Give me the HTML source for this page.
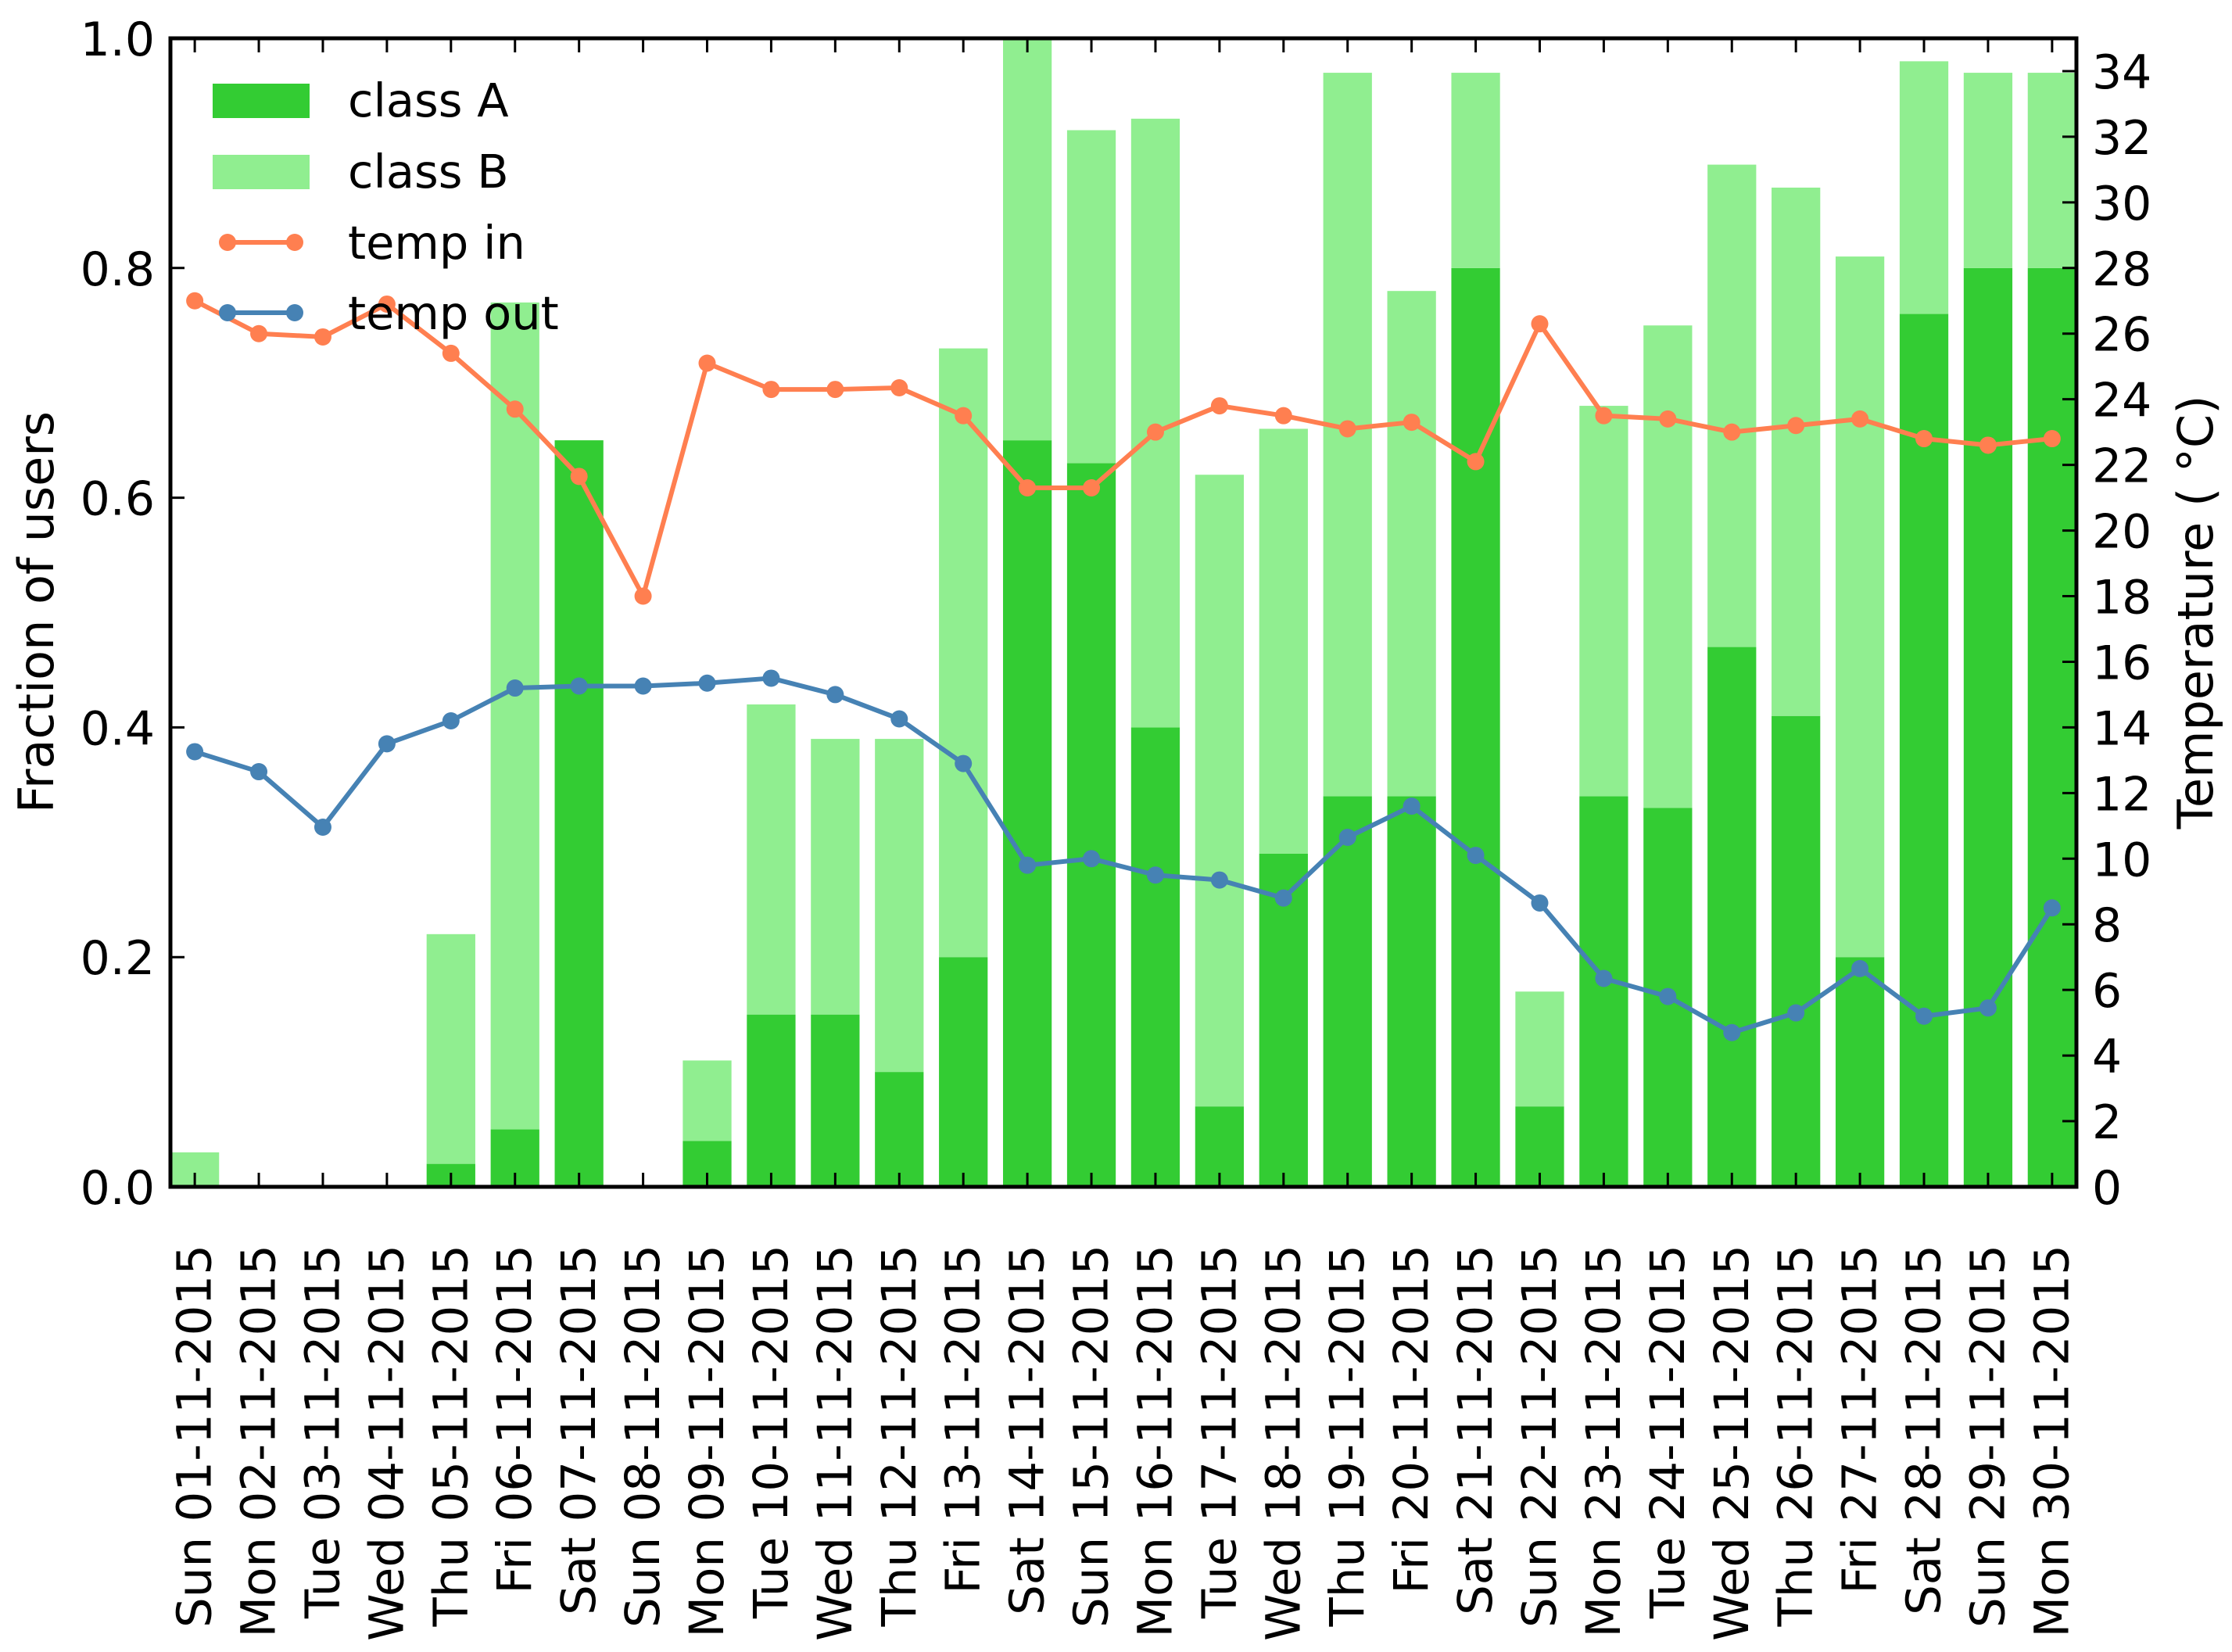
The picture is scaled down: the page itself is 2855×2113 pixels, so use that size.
<!DOCTYPE html>
<html><head><meta charset="utf-8"><style>
html,body{margin:0;padding:0;background:#fff;}
svg{display:block;font-family:"DejaVu Sans","Liberation Sans",sans-serif;}
</style></head><body>
<svg id="chart" width="2855" height="2113" viewBox="0 0 2855 2113" xmlns="http://www.w3.org/2000/svg">
<g id="bars"></g>
<g id="lines"></g>
<g id="axes"></g>
<g id="legend">
  <rect x="272" y="107" width="124" height="44" fill="#33cc33"/>
  <text x="445" y="149" font-size="59">class A</text>
  <rect x="272" y="198" width="124" height="44" fill="#90ee90"/>
  <text x="445" y="240" font-size="59">class B</text>
  <line x1="291" y1="310" x2="377" y2="310" stroke="#ff7f50" stroke-width="6"/>
  <circle cx="291" cy="310" r="11" fill="#ff7f50"/>
  <circle cx="377" cy="310" r="11" fill="#ff7f50"/>
  <text x="445" y="331" font-size="59">temp in</text>
  <line x1="291" y1="400" x2="377" y2="400" stroke="#4682b4" stroke-width="6"/>
  <circle cx="291" cy="400" r="11" fill="#4682b4"/>
  <circle cx="377" cy="400" r="11" fill="#4682b4"/>
  <text x="445" y="421" font-size="59">temp out</text>
</g>
<text font-size="62" text-anchor="middle" transform="translate(68,783) rotate(-90)">Fraction of users</text>
<text font-size="62" text-anchor="middle" transform="translate(2830,783) rotate(-90)">Temperature ( °C)</text>
</svg>
<script>
const categories = ["Sun 01-11-2015","Mon 02-11-2015","Tue 03-11-2015","Wed 04-11-2015","Thu 05-11-2015","Fri 06-11-2015","Sat 07-11-2015","Sun 08-11-2015","Mon 09-11-2015","Tue 10-11-2015","Wed 11-11-2015","Thu 12-11-2015","Fri 13-11-2015","Sat 14-11-2015","Sun 15-11-2015","Mon 16-11-2015","Tue 17-11-2015","Wed 18-11-2015","Thu 19-11-2015","Fri 20-11-2015","Sat 21-11-2015","Sun 22-11-2015","Mon 23-11-2015","Tue 24-11-2015","Wed 25-11-2015","Thu 26-11-2015","Fri 27-11-2015","Sat 28-11-2015","Sun 29-11-2015","Mon 30-11-2015"];
const classA = [0,0,0,0,0.02,0.05,0.65,0,0.04,0.15,0.15,0.10,0.20,0.65,0.63,0.40,0.07,0.29,0.34,0.34,0.80,0.07,0.34,0.33,0.47,0.41,0.20,0.76,0.80,0.80];
const classB = [0.03,0,0,0,0.20,0.72,0,0,0.07,0.27,0.24,0.29,0.53,0.35,0.29,0.53,0.55,0.37,0.63,0.44,0.17,0.10,0.34,0.42,0.42,0.46,0.61,0.22,0.17,0.17];
const tempIn = [27.0,26.0,25.9,26.9,25.4,23.7,21.65,18.0,25.1,24.3,24.3,24.35,23.5,21.3,21.3,23.0,23.8,23.5,23.1,23.3,22.1,26.3,23.5,23.4,23.0,23.2,23.4,22.8,22.6,22.8];
const tempOut = [13.26,12.65,10.96,13.5,14.2,15.2,15.26,15.26,15.35,15.5,15.0,14.26,12.9,9.8,10.0,9.5,9.35,8.8,10.65,11.6,10.1,8.65,6.35,5.8,4.7,5.3,6.65,5.2,5.45,8.5];
const yTicks = ["0.0","0.2","0.4","0.6","0.8","1.0"];
const y2Ticks = ["0","2","4","6","8","10","12","14","16","18","20","22","24","26","28","30","32","34"];

const NS="http://www.w3.org/2000/svg";
const L=218,R=2656,T=49,B=1518;
const xmin=-0.38,xmax=29.38,barW=0.76;
const x=i=>L+(i-xmin)/(xmax-xmin)*(R-L);
const y=v=>B-v*(B-T);
const y2=v=>B-v/35*(B-T);
function mk(tag,attrs,parent){const e=document.createElementNS(NS,tag);for(const k in attrs)e.setAttribute(k,attrs[k]);parent.appendChild(e);return e;}
const gb=document.getElementById('bars'),gl=document.getElementById('lines'),ga=document.getElementById('axes');
const bw=barW*(x(1)-x(0));
categories.forEach((c,i)=>{
  const a=mk('rect',{x:x(i)-bw/2,y:y(classA[i]),width:bw,height:y(0)-y(classA[i]),fill:'#33cc33'},gb);
  
  
  const top=classA[i]+classB[i];
  const b=mk('rect',{x:x(i)-bw/2,y:y(top),width:bw,height:y(classA[i])-y(top),fill:'#90ee90'},gb);
  
  
});
function series(vals,color,name){
  const pts=vals.map((v,i)=>x(i)+','+y2(v)).join(' ');
  const p=mk('polyline',{points:pts,fill:'none',stroke:color,'stroke-width':6,'stroke-linejoin':'round'},gl);
  
  
  vals.forEach((v,i)=>{
    const c=mk('circle',{cx:x(i),cy:y2(v),r:11,fill:color},gl);
    
    
  });
}
series(tempIn,'#ff7f50','temp-in');
series(tempOut,'#4682b4','temp-out');
const fr=mk('rect',{x:L,y:T,width:R-L,height:B-T,fill:'none',stroke:'#000','stroke-width':5},ga);


categories.forEach((c,i)=>{
  const t1=mk('line',{x1:x(i),y1:B,x2:x(i),y2:B-18,stroke:'#000','stroke-width':3},ga);
  
  
  const t2=mk('line',{x1:x(i),y1:T,x2:x(i),y2:T+18,stroke:'#000','stroke-width':3},ga);
  
  
  const tx=mk('text',{'font-size':61,'text-anchor':'end','dominant-baseline':'central',transform:`translate(${x(i)},${B+74}) rotate(-90)`},ga);
  tx.textContent=c;
  
  
});
yTicks.forEach(s=>{
  const v=parseFloat(s);
  const t=mk('line',{x1:L,y1:y(v),x2:L+18,y2:y(v),stroke:'#000','stroke-width':3},ga);
  
  
  const tx=mk('text',{x:L-20,y:y(v)+22,'font-size':60,'text-anchor':'end'},ga);
  tx.textContent=s;
  
  
});
y2Ticks.forEach(s=>{
  const v=parseFloat(s);
  const t=mk('line',{x1:R,y1:y2(v),x2:R-18,y2:y2(v),stroke:'#000','stroke-width':3},ga);
  
  
  const tx=mk('text',{x:R+20,y:y2(v)+22,'font-size':60,'text-anchor':'start'},ga);
  tx.textContent=s;
  
  
});
</script>
</body></html>
